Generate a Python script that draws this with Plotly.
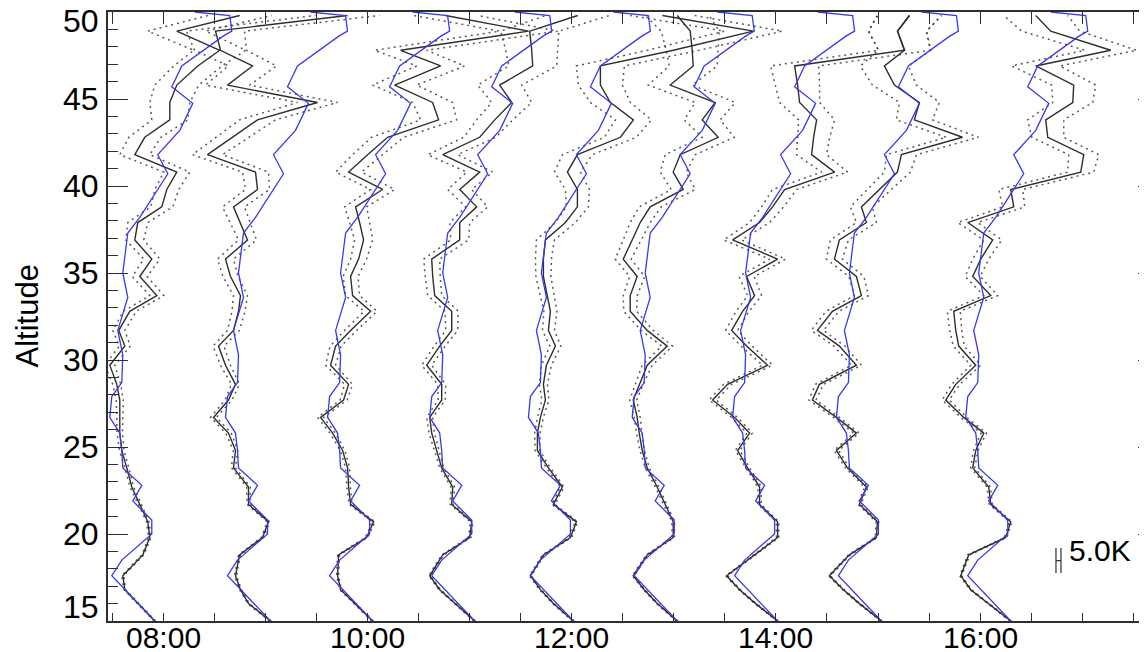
import plotly.graph_objects as go

# ---------------- data ----------------
PROFILE_TIMES = ["07:55", "09:03", "10:03", "11:03", "12:01", "13:02", "14:01", "15:02", "16:18"]

# retrieval altitude grid (km)
ALT = [15.0, 16.0, 16.8, 17.6, 18.8, 19.8, 20.7, 21.7, 22.7, 23.8,
       24.8, 25.8, 26.7, 27.7, 28.6, 29.7, 30.8, 31.7, 32.8, 33.7,
       34.8, 35.8, 36.9, 37.9, 38.8, 39.8, 40.8, 41.8, 42.8, 43.8,
       44.8, 45.8, 46.9, 47.8, 48.9, 49.8]

# 1-sigma uncertainty (K) on ALT grid
ERR_K = [0.8, 0.8, 0.9, 1.0, 1.0, 1.2, 1.3, 1.5, 1.8, 2.0,
         2.3, 2.7, 3.0, 3.5, 4.0, 5.0, 5.5, 6.0, 6.5, 7.0,
         7.5, 8.0, 9.0, 10.0, 11.0, 12.0, 13.0, 15.0, 16.0, 18.0,
         20.0, 22.0, 24.0, 26.0, 29.0, 32.0]

# observed temperature profiles (K, relative to the 15 km model value)
OBS_1 = [0, -17, -30, -32, -12, -5, -7, -15, -23, -28, -33, -35, -35, -35, -38, -45, -30, -36, -25, 2,
         -15, -3, -20, -17, 7, 12, 22, -20, -10, 15, 15, 22, 43, 65, 22, 85]
OBS_2 = [0, -22, -30, -35, -31, -8, -2, -22, -22, -37, -35, -42, -57, -42, -35, -45, -52, -37, -32, -30,
         -40, -45, -23, -30, -37, -13, -15, -63, -38, -13, 47, -43, -18, -50, -55, 77]
OBS_3 = [0, -18, -32, -35, -34, -6, 1, -22, -24, -25, -30, -40, -52, -29, -24, -42, -37, -22, -2, -20,
         -22, -14, -9, -13, -17, 10, -24, -5, 15, 66, 60, 22, 68, 28, 156, 73]
OBS_4 = [0, -20, -35, -45, -32, -5, -3, -23, -22, -33, -38, -43, -45, -33, -33, -48, -35, -23, -23, -40,
         -42, -43, -15, -15, 2, -15, 5, -32, 5, 20, 37, 25, 58, 57, 55, 103]
OBS_5 = [0, -20, -33, -43, -30, -3, 3, -20, -11, -25, -36, -36, -33, -28, -30, -27, -18, -25, -23, -26,
         -30, -30, -28, -8, 4, 4, -6, 4, 47, 60, 37, 27, 27, 100, 180, 89]
OBS_6 = [0, -20, -33, -44, -30, -4, -4, -12, -20, -30, -35, -38, -40, -44, -38, -30, -10, -30, -47, -47,
         -40, -54, -45, -37, -27, 6, -4, 3, 41, 25, 38, -7, 16, 15, 13, 0]
OBS_7 = [0, -22, -38, -51, -23, 0, 0, -18, -18, -30, -40, -28, -43, -65, -50, -10, -31, -46, -35, -23,
         -31, 0, -45, -18, -5, 7, 57, 34, 36, 39, 22, 20, 17, 127, 120, 132]
OBS_8 = [0, -22, -38, -52, -32, -5, -4, -22, -15, -34, -45, -25, -45, -69, -62, -25, -42, -64, -49, -20,
         -25, -47, -42, -15, -20, -2, 16, 20, 81, 33, 38, 13, 3, 23, 16, 28]
OBS_9 = [0, -22, -40, -50, -42, -5, 0, -20, -22, -38, -35, -27, -47, -65, -55, -35, -52, -55, -57, -20,
         -38, -30, -18, -43, 3, 0, 70, 73, 37, 35, 62, 63, 25, 100, 40, 25]
OBS = [OBS_1, OBS_2, OBS_3, OBS_4, OBS_5, OBS_6, OBS_7, OBS_8, OBS_9]

# model profile (K, relative to its 15 km value)
MODEL_ALT = [15.0, 17.6, 18.5, 20.0, 20.8, 21.9, 22.8, 23.8, 24.8, 25.8, 26.7, 27.9, 28.7, 30.3, 31.7,
             33.6, 35.0, 37.3, 38.2, 40.7, 41.8, 43.2, 44.75, 45.7, 46.9, 48.6, 48.9, 49.8, 50.0]
MODEL_K = [0, -43, -33, -3, -3, -22, -13, -32, -33, -35, -45, -43, -33, -32, -37,
           -27, -32, -27, -15, 13, 3, 25, 38, 17, 27, 68, 77, 75, 40]

K_PER_HOUR = 102.1          # horizontal temperature scale: K per hour of time axis
SCALE_BAR_K = 5.0

X_TICK_HOURS = [7.5 + 0.5 * i for i in range(21)]
X_LABEL_HOURS = [8, 10, 12, 14, 16]
Y_TICKS = [15, 20, 25, 30, 35, 40, 45, 50]

# ---------------- figure ----------------
def hours(s):
    h, m = s.split(":")
    return int(h) + int(m) / 60.0

FONT = "Liberation Sans, Arial, sans-serif"
BLACK = "#2e2e2e"
BLUE = "#3838f0"
DOT = "rgba(60,60,60,0.85)"

fig = go.Figure()
for ts, obs in zip(PROFILE_TIMES, OBS):
    t0 = hours(ts)
    xo = [t0 + v / K_PER_HOUR for v in obs]
    xl = [t0 + (v - e) / K_PER_HOUR for v, e in zip(obs, ERR_K)]
    xh = [t0 + (v + e) / K_PER_HOUR for v, e in zip(obs, ERR_K)]
    for xx in (xl, xh):
        fig.add_trace(go.Scatter(x=xx, y=ALT, mode="lines", showlegend=False, hoverinfo="skip",
                                 line=dict(color=DOT, width=1.5, dash="2px,4px")))
    fig.add_trace(go.Scatter(x=xo, y=ALT, mode="lines", showlegend=False,
                             line=dict(color=BLACK, width=1.4)))
for ts in PROFILE_TIMES:
    t0 = hours(ts)
    xm = [t0 + v / K_PER_HOUR for v in MODEL_K]
    fig.add_trace(go.Scatter(x=xm, y=MODEL_ALT, mode="lines", showlegend=False,
                             line=dict(color=BLUE, width=1.3)))

# scale bar (5.0 K)
bx0 = 16.743
bx1 = bx0 + SCALE_BAR_K / K_PER_HOUR
fig.add_trace(go.Scatter(x=[bx0, bx0, None, bx1, bx1, None, bx0, bx1],
                         y=[17.76, 19.2, None, 17.76, 19.2, None, 18.47, 18.47],
                         mode="lines", showlegend=False, hoverinfo="skip",
                         line=dict(color=BLACK, width=1.2)))

# dummy trace to activate the top/right mirror axes
XR = [7.4584, 17.6346]
fig.add_trace(go.Scatter(x=[XR[0]], y=[15], xaxis="x2", yaxis="y2", mode="markers",
                         marker=dict(size=0.1, opacity=0), showlegend=False, hoverinfo="skip"))

annotations = [
    dict(text="Altitude", xref="paper", yref="paper", x=0, y=0.5, xshift=-81,
         xanchor="center", yanchor="middle", textangle=-90, showarrow=False,
         font=dict(family=FONT, size=31, color="black")),
    dict(text="5.0K", xref="x", yref="y", x=16.851, y=19.08, xanchor="left", yanchor="middle",
         showarrow=False, font=dict(family=FONT, size=30, color="black")),
]
# y tick labels (end labels are nudged inside the frame as in the original)
for v in Y_TICKS:
    shift = 14 if v == 15 else (-9 if v == 50 else 0)
    annotations.append(dict(text=str(v), xref="paper", yref="y", x=0, y=v, xshift=-7, yshift=shift,
                            xanchor="right", yanchor="middle", showarrow=False,
                            font=dict(family=FONT, size=32, color="black")))
# x tick labels
for h in X_LABEL_HOURS:
    annotations.append(dict(text="%02d:00" % h, xref="x", yref="paper", x=h, y=0, yshift=-16,
                            xanchor="center", yanchor="middle", showarrow=False,
                            font=dict(family=FONT, size=30, color="black")))

# the page body adds an 8 px offset, so margins are shifted by that amount
fig.update_layout(
    width=1147, height=652,
    margin=dict(l=100, r=8, t=4, b=39),
    paper_bgcolor="white", plot_bgcolor="white",
    showlegend=False,
    xaxis=dict(range=XR, tickmode="array", tickvals=X_TICK_HOURS, showticklabels=False,
               ticks="inside", ticklen=8, tickwidth=1.3, tickcolor=BLACK, automargin=False,
               showline=True, linecolor=BLACK, linewidth=1.5, showgrid=False, zeroline=False),
    xaxis2=dict(range=XR, overlaying="x", side="top", anchor="y", tickmode="array",
                tickvals=X_TICK_HOURS, showticklabels=False, automargin=False,
                ticks="inside", ticklen=12, tickwidth=1.3, tickcolor=BLACK,
                showline=True, linecolor=BLACK, linewidth=1.5, showgrid=False, zeroline=False),
    yaxis=dict(range=[15, 50], tickmode="array", tickvals=Y_TICKS, showticklabels=False,
               ticks="inside", ticklen=20, tickwidth=1.3, tickcolor=BLACK, automargin=False,
               minor=dict(tickmode="linear", tick0=15, dtick=1, ticks="inside", ticklen=10,
                          tickwidth=1.3, tickcolor=BLACK),
               showline=True, linecolor=BLACK, linewidth=1.5, showgrid=False, zeroline=False),
    yaxis2=dict(range=[15, 50], overlaying="y", side="right", anchor="x", tickmode="array",
                tickvals=Y_TICKS[1:], showticklabels=False, automargin=False,
                ticks="inside", ticklen=9, tickwidth=1.3, tickcolor=BLACK,
                showline=False, showgrid=False, zeroline=False),
    annotations=annotations,
)

fig.write_html("out.html")
